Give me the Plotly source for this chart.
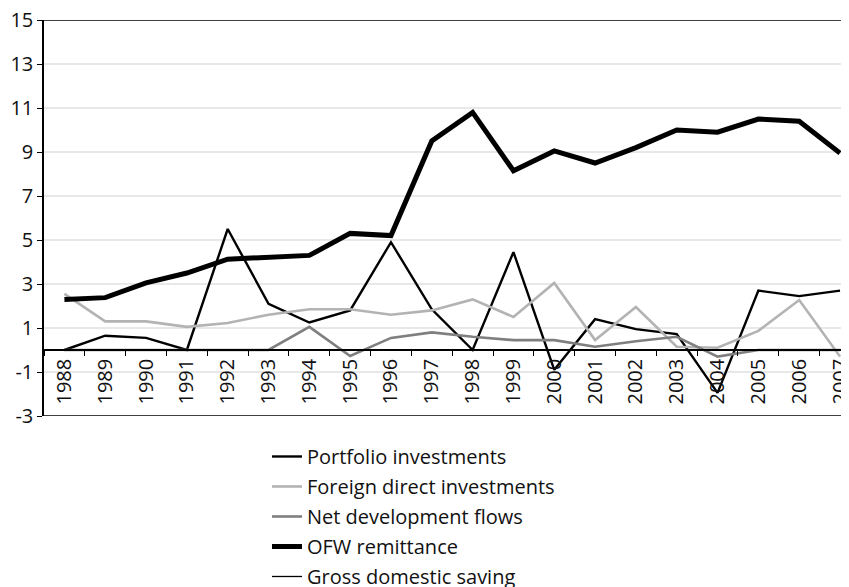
import plotly.graph_objects as go

years = [str(y) for y in range(1988, 2008)]
portfolio = [0, 0.65, 0.55, 0, 5.5, 2.1, 1.25, 1.8, 4.9, 1.85, 0, 4.45, -0.9, 1.4, 0.95, 0.72, -1.95, 2.7, 2.45, 2.7]
fdi = [2.55, 1.3, 1.3, 1.05, 1.23, 1.6, 1.85, 1.85, 1.6, 1.8, 2.3, 1.5, 3.05, 0.45, 1.95, 0.15, 0.1, 0.87, 2.27, -0.3]
net_dev = [0, 0, 0, 0, 0, 0, 1.05, -0.27, 0.55, 0.8, 0.6, 0.45, 0.45, 0.15, 0.4, 0.6, -0.3, 0, 0, 0]
ofw = [2.3, 2.38, 3.05, 3.5, 4.13, 4.2, 4.3, 5.3, 5.2, 9.5, 10.8, 8.15, 9.05, 8.5, 9.2, 10.0, 9.9, 10.5, 10.4, 8.95]
gross_saving = [None] * 20

y_ticks = [-3, -1, 1, 3, 5, 7, 9, 11, 13, 15]

FONT = "Open Sans"
TXT = "#111111"

fig = go.Figure()
series = [
    ("Portfolio investments", portfolio, "#000000", 2.4),
    ("Foreign direct investments", fdi, "#b3b3b3", 2.6),
    ("Net development flows", net_dev, "#7f7f7f", 2.6),
    ("OFW remittance", ofw, "#000000", 5),
    ("Gross domestic saving", gross_saving, "#000000", 1.3),
]
for i, (name, vals, color, w) in enumerate(series):
    fig.add_trace(go.Scatter(
        x=years, y=vals, name=name, mode="lines",
        line=dict(color=color, width=w),
        showlegend=True, legendgroup=f"g{i}",
    ))

fig.update_layout(
    width=849, height=587,
    margin=dict(l=36, r=8, t=12, b=179, autoexpand=False),
    plot_bgcolor="white", paper_bgcolor="white",
    font=dict(family=FONT, size=20, color=TXT),
    legend=dict(
        x=0.277, y=-0.053, xanchor="left", yanchor="top",
        traceorder="grouped", tracegroupgap=1,
        font=dict(family=FONT, size=20, color=TXT),
        bgcolor="rgba(0,0,0,0)",
    ),
    shapes=[
        dict(type="line", xref="paper", yref="y", x0=0, x1=1, y0=15, y1=15,
             line=dict(color="black", width=1.5)),
        dict(type="line", xref="paper", yref="y", x0=0, x1=1, y0=-3, y1=-3,
             line=dict(color="black", width=1.5)),
    ],
)
fig.update_xaxes(
    type="category", range=[-0.5, 19.22],
    anchor="free", position=1/6,
    showline=True, linecolor="black", linewidth=1.5,
    ticks="outside", ticklen=5, tickcolor="black", tickson="boundaries",
    tickangle=-90, showgrid=False, zeroline=False, automargin=False,
    ticklabeloverflow="allow",
    tickfont=dict(family=FONT, size=20, color=TXT),
)
fig.update_yaxes(
    range=[-3, 15], tickvals=y_ticks, ticktext=[str(v) for v in y_ticks],
    showline=True, linecolor="black", linewidth=1.5,
    ticks="outside", ticklen=5, tickcolor="black",
    showgrid=True, gridcolor="#e8e8e8", gridwidth=1.5,
    zeroline=False, automargin=False,
    ticklabeloverflow="allow",
    tickfont=dict(family=FONT, size=20, color=TXT),
)

fig.write_html("out.html")
